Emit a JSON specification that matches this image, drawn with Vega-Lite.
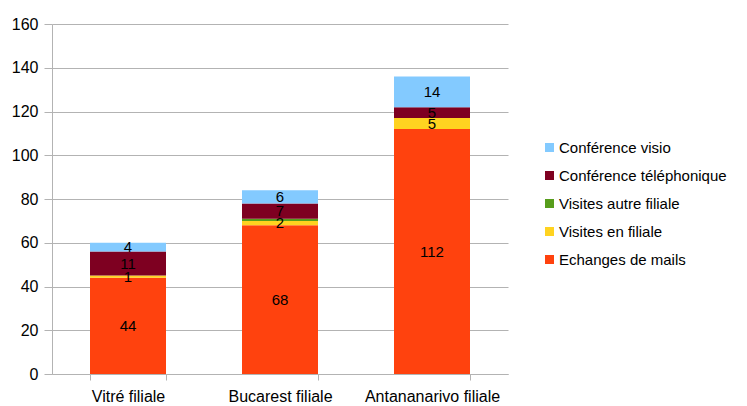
{
  "$schema": "https://vega.github.io/schema/vega-lite/v6.json",
  "autosize": "none",
  "width": 456,
  "height": 350,
  "padding": {"left": 52, "top": 24, "right": 239, "bottom": 32},
  "background": "white",
  "config": {
    "font": "Liberation Sans",
    "view": {"stroke": null}
  },
  "data": {
    "values": [
      {"site": "Vitré filiale", "type": "Echanges de mails", "ord": 1, "value": 44},
      {"site": "Vitré filiale", "type": "Visites en filiale", "ord": 2, "value": 1},
      {"site": "Vitré filiale", "type": "Visites autre filiale", "ord": 3, "value": 0},
      {"site": "Vitré filiale", "type": "Conférence téléphonique", "ord": 4, "value": 11},
      {"site": "Vitré filiale", "type": "Conférence visio", "ord": 5, "value": 4},
      {"site": "Bucarest filiale", "type": "Echanges de mails", "ord": 1, "value": 68},
      {"site": "Bucarest filiale", "type": "Visites en filiale", "ord": 2, "value": 2},
      {"site": "Bucarest filiale", "type": "Visites autre filiale", "ord": 3, "value": 1},
      {"site": "Bucarest filiale", "type": "Conférence téléphonique", "ord": 4, "value": 7},
      {"site": "Bucarest filiale", "type": "Conférence visio", "ord": 5, "value": 6},
      {"site": "Antananarivo filiale", "type": "Echanges de mails", "ord": 1, "value": 112},
      {"site": "Antananarivo filiale", "type": "Visites en filiale", "ord": 2, "value": 5},
      {"site": "Antananarivo filiale", "type": "Visites autre filiale", "ord": 3, "value": 0},
      {"site": "Antananarivo filiale", "type": "Conférence téléphonique", "ord": 4, "value": 5},
      {"site": "Antananarivo filiale", "type": "Conférence visio", "ord": 5, "value": 14}
    ]
  },
  "transform": [
    {"stack": "value", "groupby": ["site"], "sort": [{"field": "ord", "order": "ascending"}], "as": ["v0", "v1"]},
    {"calculate": "(datum.v0 + datum.v1) / 2", "as": "mid"}
  ],
  "encoding": {
    "x": {
      "field": "site",
      "type": "nominal",
      "sort": ["Vitré filiale", "Bucarest filiale", "Antananarivo filiale"],
      "scale": {"paddingInner": 0.5, "paddingOuter": 0.25},
      "axis": {
        "title": null,
        "labelAngle": 0,
        "labelFontSize": 16,
        "labelColor": "#000000",
        "labelPadding": 8,
        "tickBand": "extent",
        "tickColor": "#b3b3b3",
        "tickSize": 6,
        "domainColor": "#b3b3b3",
        "grid": false
      }
    }
  },
  "layer": [
    {
      "mark": {"type": "bar"},
      "encoding": {
        "y": {
          "field": "v0",
          "type": "quantitative",
          "scale": {"domain": [0, 160]},
          "axis": {
            "title": null,
            "values": [0, 20, 40, 60, 80, 100, 120, 140, 160],
            "labelFontSize": 16,
            "labelColor": "#000000",
            "labelPadding": 6,
            "tickColor": "#b3b3b3",
            "tickSize": 8,
            "domainColor": "#b3b3b3",
            "gridColor": "#b3b3b3",
            "grid": true
          }
        },
        "y2": {"field": "v1"},
        "color": {
          "field": "type",
          "type": "nominal",
          "scale": {
            "domain": ["Conférence visio", "Conférence téléphonique", "Visites autre filiale", "Visites en filiale", "Echanges de mails"],
            "range": ["#83caff", "#7e0021", "#579d1c", "#ffd320", "#ff420e"]
          },
          "legend": {
            "title": null,
            "orient": "none",
            "legendX": 490,
            "legendY": 116,
            "symbolType": "square",
            "symbolSize": 81,
            "symbolStrokeWidth": 0,
            "labelFontSize": 15,
            "labelLimit": 300,
            "labelColor": "#000000",
            "rowPadding": 12,
            "labelOffset": 2
          }
        }
      }
    },
    {
      "transform": [{"filter": "datum.value > 0 && datum.type != 'Visites autre filiale'"}],
      "mark": {"type": "text", "fontSize": 15, "color": "#000000", "baseline": "middle"},
      "encoding": {
        "y": {"field": "mid", "type": "quantitative"},
        "text": {"field": "value", "type": "quantitative"}
      }
    }
  ]
}
